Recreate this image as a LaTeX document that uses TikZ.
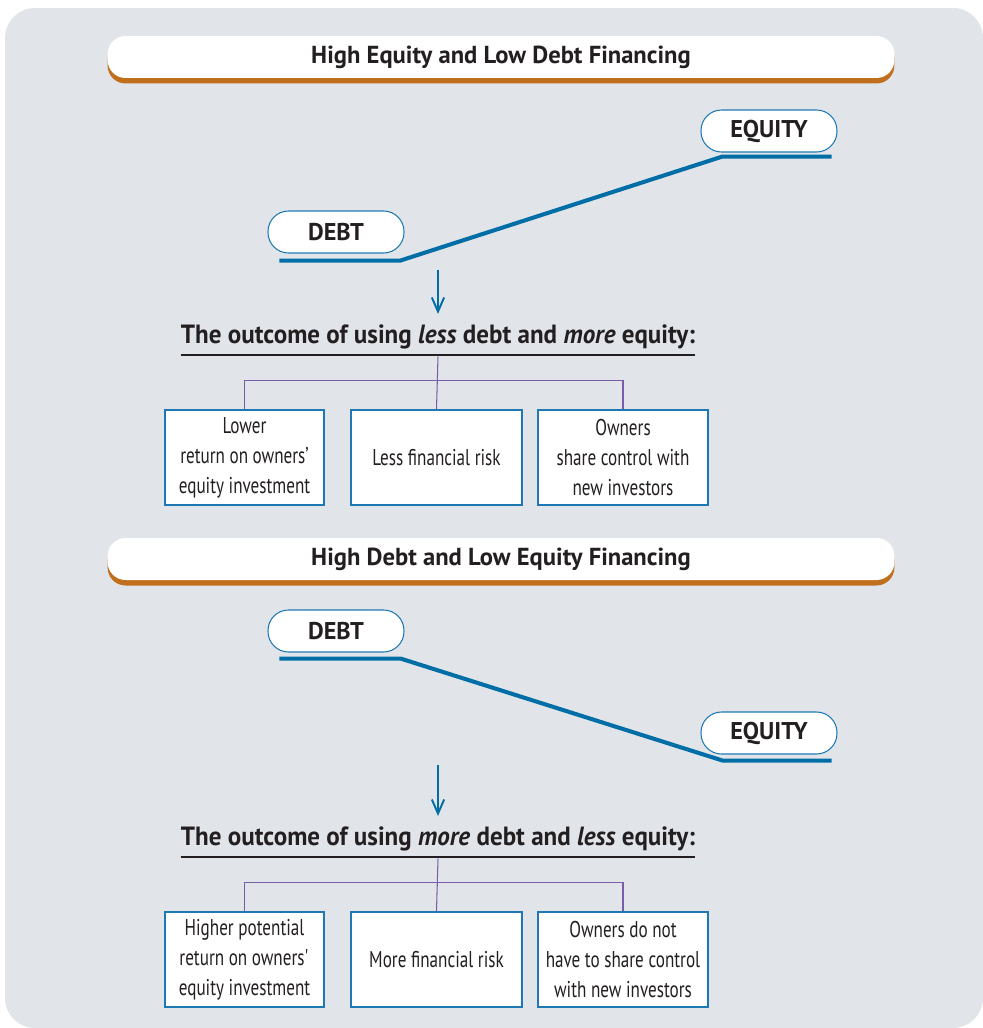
\documentclass[tikz,border=0pt]{standalone}
\usepackage{fontspec}
\setmainfont{PT Sans}
\newfontfamily\boxfont[FakeStretch=0.75]{PT Sans}
\newfontfamily\headfont[FakeStretch=0.95]{PT Sans}
\usepackage{tikz}
\usetikzlibrary{arrows.meta, positioning, shadows}

\definecolor{panelgray}{RGB}{225,229,233}
\definecolor{bannerorange}{RGB}{192,112,28}
\definecolor{railblue}{RGB}{0,110,166}
\definecolor{pillblue}{RGB}{30,120,180}
\definecolor{treepurple}{RGB}{123,92,170}
\definecolor{inkdark}{RGB}{35,31,32}

\begin{document}
\begin{tikzpicture}[x=0.02cm, y=-0.02cm,
    banner/.style={fill=white, rounded corners=0.36cm, minimum width=15.74cm,
                   minimum height=0.84cm, text=inkdark,
                   font=\bfseries\fontsize{14}{16}\selectfont,
                   general shadow={fill=bannerorange, shadow yshift=-0.11cm}},
    pill/.style={draw=pillblue, line width=0.6pt, fill=white, rounded corners=0.41cm,
                 minimum width=2.72cm, minimum height=0.84cm, text=inkdark,
                 font=\bfseries\fontsize{13.8}{15}\selectfont},
    outcome/.style={inner sep=0pt, text=inkdark,
                    font=\headfont\bfseries\fontsize{15}{18}\selectfont},
    box/.style={draw=pillblue, line width=0.85pt, fill=white, minimum height=1.9cm,
                align=center, text=inkdark, font=\boxfont\fontsize{13}{17}\selectfont},
    rail/.style={railblue, line width=2.3pt},
    tree/.style={treepurple, line width=0.6pt},
    arr/.style={-{Straight Barb[length=8pt, width=7pt]}, railblue, line width=1.1pt},
    uline/.style={inkdark, line width=1.2pt}
]
\useasboundingbox (0,0) rectangle (983,1028);
\fill[panelgray, rounded corners=0.6cm] (5,8) rectangle (983,1028);

% upper half: high equity, low debt
\node[banner] (ban1) at (501,57) {High Equity and Low Debt Financing};
\node[pill] (debt1) at (336,232) {DEBT};
\node[pill] (eq1) at (769,131) {EQUITY};
\draw[rail] ([xshift=0.24cm, yshift=-0.14cm]debt1.south west)
    -- ([xshift=-0.08cm, yshift=-0.14cm]debt1.south east)
    -- ([xshift=0.44cm, yshift=-0.08cm]eq1.south west)
    -- ([xshift=-0.12cm, yshift=-0.08cm]eq1.south east);

\coordinate (a1) at (438,270);
\node[outcome] (hd1) at (438,337) {The outcome of using \textit{less} debt and \textit{more} equity:};
\draw[arr] (a1) -- ([yshift=6pt]hd1.north);
\draw[uline] ([yshift=-3pt]hd1.south west) -- ([yshift=-3pt]hd1.south east);

\node[box, minimum width=3.18cm] (b11) at (244.5,457.5) {Lower\\return on owners’\\equity investment};
\node[box, minimum width=3.42cm] (b12) at (436.5,457.5) {Less financial risk};
\node[box, minimum width=3.4cm] (b13) at (623,457.5) {Owners\\share control with\\new investors};
\draw[tree] ([yshift=-4pt]hd1.south) -- (b12.north);
\draw[tree] (b11.north) -- ++(0,-29) -| (b13.north);

% lower half: high debt, low equity
\node[banner] (ban2) at (501,559) {High Debt and Low Equity Financing};
\node[pill] (debt2) at (336,631) {DEBT};
\node[pill] (eq2) at (769,733) {EQUITY};
\draw[rail] ([xshift=0.24cm, yshift=-0.12cm]debt2.south west)
    -- ([xshift=-0.08cm, yshift=-0.12cm]debt2.south east)
    -- ([xshift=0.44cm, yshift=-0.12cm]eq2.south west)
    -- ([xshift=-0.12cm, yshift=-0.12cm]eq2.south east);

\coordinate (a2) at (438,765);
\node[outcome] (hd2) at (438,839) {The outcome of using \textit{more} debt and \textit{less} equity:};
\draw[arr] (a2) -- ([yshift=6pt]hd2.north);
\draw[uline] ([yshift=-3pt]hd2.south west) -- ([yshift=-3pt]hd2.south east);

\node[box, minimum width=3.18cm] (b21) at (244.5,959.5) {Higher potential\\return on owners\textquotesingle\\equity investment};
\node[box, minimum width=3.42cm] (b22) at (436.5,959.5) {More financial risk};
\node[box, minimum width=3.4cm] (b23) at (623,959.5) {Owners do not\\have to share control\\with new investors};
\draw[tree] ([yshift=-4pt]hd2.south) -- (b22.north);
\draw[tree] (b21.north) -- ++(0,-29) -| (b23.north);
\end{tikzpicture}
\end{document}
